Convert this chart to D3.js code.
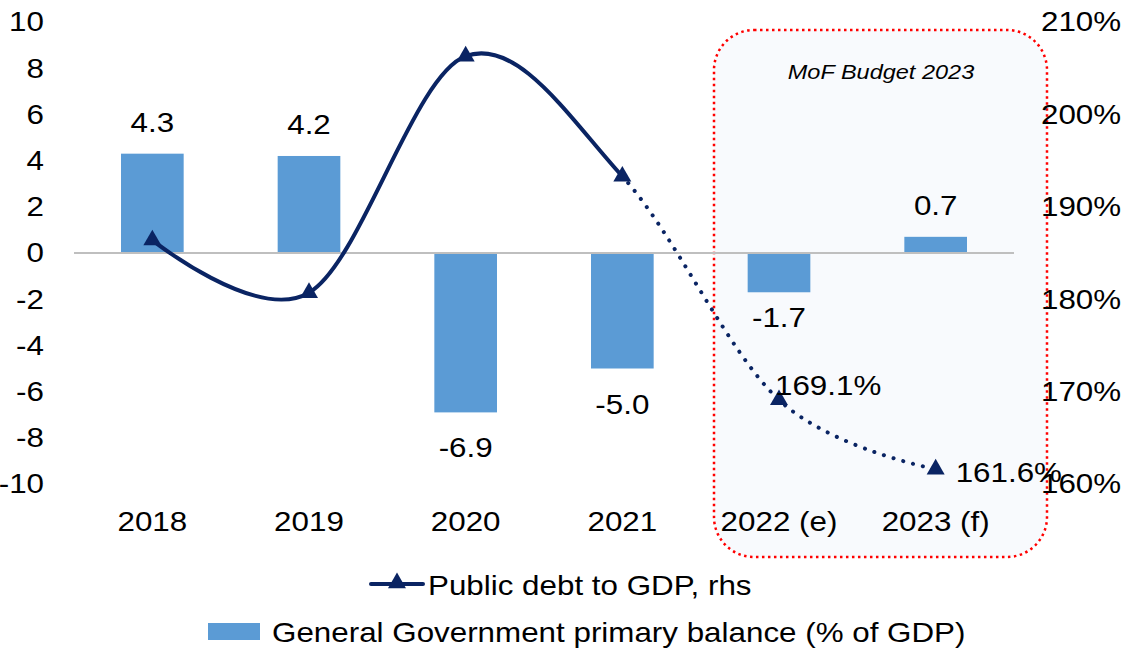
<!DOCTYPE html>
<html>
<head>
<meta charset="utf-8">
<script src="https://d3js.org/d3.v7.min.js"></script>
<style>
  body { margin: 0; background: #fff; }
  text { font-family: "Liberation Sans", Arial, sans-serif; fill: #000; }
</style>
</head>
<body>
<svg width="1130" height="650"></svg>
<script>
var years = ["2018", "2019", "2020", "2021", "2022 (e)", "2023 (f)"];
var balance = [4.3, 4.2, -6.9, -5.0, -1.7, 0.7];
var debt = [186.4, 180.7, 206.3, 193.3, 169.1, 161.6];
var leftTicks = [10, 8, 6, 4, 2, 0, -2, -4, -6, -8, -10];
var rightTicks = [210, 200, 190, 180, 170, 160];

var FS = 28, SX = 1.12;   // the source text is a bit stretched sideways
var svg = d3.select("svg");

var x = d3.scaleBand()
    .domain(years)
    .range([74, 1014])
    .paddingInner(0.6)
    .paddingOuter(0.3);

var y = d3.scaleLinear().domain([-10, 10]).range([484, 22]);
var y2 = d3.scaleLinear().domain([160, 210]).range([484, 22]);

function cx(d) { return x(d) + x.bandwidth() / 2; }

// put a stretched text at (px, py)
function label(sel, px, py, str, size, anchor) {
  return sel.append("text")
      .attr("transform", "translate(" + px + "," + py + ") scale(" + SX + ",1)")
      .attr("text-anchor", anchor || "start")
      .attr("font-size", size || FS)
      .text(str);
}

function styleTicks(g) {
  g.select(".domain").remove();
  g.selectAll("text")
      .attr("font-size", FS)
      .attr("font-family", "Liberation Sans, Arial, sans-serif")
      .attr("fill", "#000")
      .attr("transform", "scale(" + SX + ",1)");
}

// forecast box
svg.append("rect")
    .attr("x", 714).attr("y", 30)
    .attr("width", 333).attr("height", 527)
    .attr("rx", 40).attr("ry", 40)
    .attr("fill", "#f8fafd")
    .attr("stroke", "#ff0000")
    .attr("stroke-width", 2.5)
    .attr("stroke-dasharray", "2.5 3.5");

label(svg, 881, 79, "MoF Budget 2023", 21, "middle").attr("font-style", "italic");

// left axis
var gl = svg.append("g").attr("transform", "translate(44,0)")
    .call(d3.axisLeft(y).tickValues(leftTicks).tickSize(0).tickPadding(0)
      .tickFormat(function(d) { return String(d); }));
styleTicks(gl);

// right axis
var gr = svg.append("g").attr("transform", "translate(1041,0)")
    .call(d3.axisRight(y2).tickValues(rightTicks).tickSize(0).tickPadding(0)
      .tickFormat(function(d) { return d + "%"; }));
styleTicks(gr);

// category labels
var gx = svg.append("g").attr("transform", "translate(0,511)")
    .call(d3.axisBottom(x).tickSize(0).tickPadding(0));
styleTicks(gx);

// bars
svg.selectAll("rect.bar")
  .data(balance)
  .enter().append("rect")
    .attr("class", "bar")
    .attr("x", function(d, i) { return x(years[i]); })
    .attr("width", x.bandwidth())
    .attr("y", function(d) { return y(Math.max(0, d)); })
    .attr("height", function(d) { return Math.abs(y(d) - y(0)); })
    .attr("fill", "#5b9bd5");

// zero line
svg.append("line")
    .attr("x1", 74).attr("x2", 1014)
    .attr("y1", y(0)).attr("y2", y(0))
    .attr("stroke", "#bfbfbf")
    .attr("stroke-width", 2);

// bar labels
balance.forEach(function(d, i) {
  var ly = d >= 0 ? y(d) - 22 : y(d) + (d < -3 ? 45 : 35);
  label(svg, cx(years[i]), ly, d.toFixed(1), FS, "middle");
});

// debt line, solid for actuals and dotted for the forecast part
var pts = debt.map(function(d, i) { return [cx(years[i]), y2(d)]; });
var line = d3.line().curve(d3.curveCardinal.tension(0));
var splitX = cx(years[3]);

var defs = svg.append("defs");
defs.append("clipPath").attr("id", "solid")
  .append("rect").attr("x", 0).attr("y", 0).attr("width", splitX).attr("height", 650);
defs.append("clipPath").attr("id", "dotted")
  .append("rect").attr("x", splitX).attr("y", 0).attr("width", 1130 - splitX).attr("height", 650);

svg.append("path")
    .attr("d", line(pts))
    .attr("fill", "none")
    .attr("stroke", "#0a2463")
    .attr("stroke-width", 4)
    .attr("clip-path", "url(#solid)");

svg.append("path")
    .attr("d", line(pts))
    .attr("fill", "none")
    .attr("stroke", "#0a2463")
    .attr("stroke-width", 4)
    .attr("stroke-linecap", "round")
    .attr("stroke-dasharray", "0.1 10")
    .attr("clip-path", "url(#dotted)");

var tri = d3.symbol().type(d3.symbolTriangle).size(140);
svg.selectAll("path.mark")
  .data(pts)
  .enter().append("path")
    .attr("class", "mark")
    .attr("d", tri)
    .attr("transform", function(d) { return "translate(" + d[0] + "," + d[1] + ")"; })
    .attr("fill", "#0a2463");

label(svg, pts[4][0] - 4, pts[4][1] - 5, debt[4].toFixed(1) + "%");
label(svg, pts[5][0] + 20, pts[5][1] + 13, debt[5].toFixed(1) + "%");

// legend
var lg = svg.append("g");
lg.append("line")
    .attr("x1", 371).attr("x2", 423)
    .attr("y1", 584).attr("y2", 584)
    .attr("stroke", "#0a2463").attr("stroke-width", 4)
    .attr("stroke-linecap", "round");
lg.append("path")
    .attr("d", tri)
    .attr("transform", "translate(397,583)")
    .attr("fill", "#0a2463");
label(lg, 428, 595, "Public debt to GDP, rhs");
lg.append("rect")
    .attr("x", 208).attr("y", 623)
    .attr("width", 52).attr("height", 17)
    .attr("fill", "#5b9bd5");
label(lg, 272, 642, "General Government primary balance (% of GDP)");
</script>
</body>
</html>
